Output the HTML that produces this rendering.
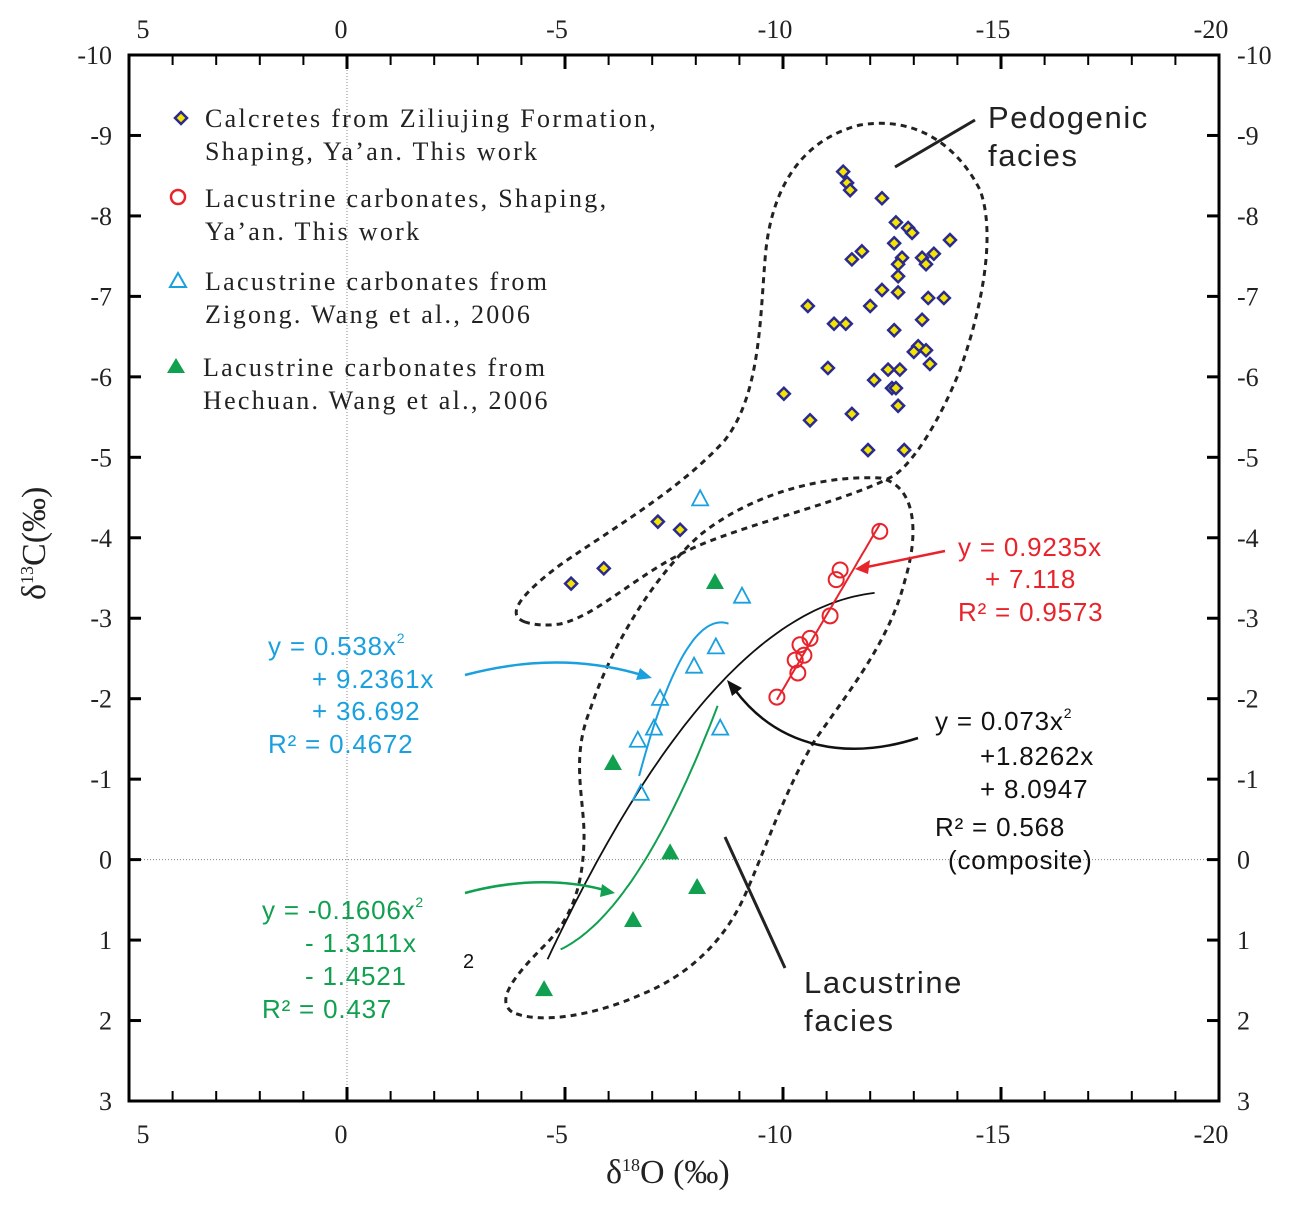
<!DOCTYPE html>
<html><head><meta charset="utf-8"><style>
html,body{margin:0;padding:0;background:#fff;}
svg{display:block;}
.serif{font-family:"Liberation Serif",serif;}
.sans{font-family:"Liberation Sans",sans-serif;}
</style></head><body>
<svg id="chart" width="1306" height="1206" xmlns="http://www.w3.org/2000/svg">
<g id="grid"></g>
<g id="envelopes" fill="none" stroke="#222" stroke-width="3" stroke-dasharray="6,5">
<path d="M525,622 C505,615 520,595 560,565 C610,530 680,490 725,440 C760,395 760,320 765,260 C770,190 800,140 860,125 C920,115 960,150 980,190 C995,230 985,300 960,370 C940,420 915,460 895,475 C850,500 760,520 700,545 C640,570 600,615 560,624 C545,626 535,625 525,622 Z"/>
<path d="M512,1012 C495,1000 515,975 545,945 C575,915 583,880 584,840 C585,800 570,760 590,710 C610,650 650,580 700,535 C750,495 820,475 880,478 C915,485 920,530 905,580 C890,640 850,690 815,740 C785,790 765,850 745,895 C725,940 690,975 640,995 C595,1015 540,1025 512,1012 Z"/>
</g>
<g id="fits"></g>
<g id="marks"></g>
<g id="axes"></g>
<g id="annot">
<line x1="895" y1="167" x2="975" y2="120" stroke="#222" stroke-width="3"/>
<text x="988" y="128" class="sans" font-size="31" letter-spacing="1.6" fill="#222">Pedogenic</text>
<text x="988" y="166" class="sans" font-size="31" letter-spacing="1.6" fill="#222">facies</text>
<line x1="725" y1="837" x2="785" y2="968" stroke="#222" stroke-width="3"/>
<text x="804" y="993" class="sans" font-size="31" letter-spacing="1.6" fill="#222">Lacustrine</text>
<text x="804" y="1031" class="sans" font-size="31" letter-spacing="1.6" fill="#222">facies</text>
<g class="sans" font-size="26" letter-spacing="0.8" fill="#e8232b">
<text x="958" y="556">y = 0.9235x</text><text x="985" y="588">+ 7.118</text><text x="958" y="621">R² = 0.9573</text></g>
<path d="M945,551 L862,568" stroke="#e8232b" stroke-width="2.5" fill="none"/>
<path d="M855,569 L870,560 L868,574 Z" fill="#e8232b"/>
<g class="sans" font-size="26" letter-spacing="0.8" fill="#1aa0de">
<text x="268" y="655">y = 0.538x<tspan font-size="14" dy="-12">2</tspan></text><text x="312" y="688">+ 9.2361x</text><text x="312" y="720">+ 36.692</text><text x="268" y="753">R² = 0.4672</text></g>
<path d="M465,675 C540,655 600,662 645,676" stroke="#1aa0de" stroke-width="2.5" fill="none"/>
<path d="M652,678 L636,680 L640,668 Z" fill="#1aa0de"/>
<g class="sans" font-size="26" letter-spacing="0.8" fill="#10a050">
<text x="262" y="919">y = -0.1606x<tspan font-size="14" dy="-12">2</tspan></text><text x="305" y="952">- 1.3111x</text><text x="305" y="985">- 1.4521</text><text x="262" y="1018">R² = 0.437</text></g>
<path d="M465,893 C520,878 570,880 608,891" stroke="#10a050" stroke-width="2.5" fill="none"/>
<path d="M615,893 L600,897 L602,884 Z" fill="#10a050"/>
<text x="463" y="968" class="sans" font-size="20" fill="#111">2</text>
<g class="sans" font-size="26" letter-spacing="0.8" fill="#111">
<text x="935" y="730">y = 0.073x<tspan font-size="14" dy="-12">2</tspan></text><text x="980" y="765">+1.8262x</text><text x="980" y="798">+ 8.0947</text><text x="935" y="836">R² = 0.568</text><text x="948" y="869">(composite)</text></g>
<path d="M918,738 C850,760 780,750 735,690" stroke="#111" stroke-width="2.5" fill="none"/>
<path d="M727,680 L742,688 L732,696 Z" fill="#111"/>
</g>
<g id="legend" class="serif" font-size="26" fill="#222" letter-spacing="2.3">
<g>
<path d="M181,112 L187,118 L181,124 L175,118 Z" fill="#f5e400" stroke="#2a2a90" stroke-width="2.5"/>
<text x="205" y="127">Calcretes from Ziliujing Formation,</text><text x="205" y="160">Shaping, Ya’an. This work</text></g>
<g>
<circle cx="178" cy="197" r="7" fill="none" stroke="#e8232b" stroke-width="2.5"/>
<text x="205" y="207">Lacustrine carbonates, Shaping,</text><text x="205" y="240">Ya’an. This work</text></g>
<g>
<path d="M178,273 L186,287 L170,287 Z" fill="none" stroke="#1aa0de" stroke-width="2"/>
<text x="205" y="290">Lacustrine carbonates  from</text><text x="205" y="323">Zigong. Wang et  al., 2006</text></g>
<g>
<path d="M176,358 L185,373 L167,373 Z" fill="#10a050"/>
<text x="203" y="376">Lacustrine carbonates from</text><text x="203" y="409">Hechuan. Wang et  al., 2006</text></g>
</g>
</svg>
<script>
const xTicks=[5,0,-5,-10,-15,-20];
const yTicks=[-10,-9,-8,-7,-6,-5,-4,-3,-2,-1,0,1,2,3];
const calcX=[-11.38,-11.47,-11.54,-12.27,-12.59,-12.87,-12.96,-12.55,-13.83,-11.81,-11.58,-12.73,-13.19,-13.46,-13.28,-12.64,-12.64,-12.27,-12.64,-13.33,-13.69,-10.57,-12.00,-11.17,-11.44,-13.19,-12.55,-13.10,-13.28,-13.00,-13.37,-11.03,-12.41,-12.68,-12.09,-12.50,-12.59,-10.02,-12.64,-11.58,-10.62,-11.95,-12.78,-7.13,-7.64,-5.89,-5.14];
const calcY=[-8.55,-8.41,-8.32,-8.22,-7.92,-7.85,-7.79,-7.66,-7.70,-7.56,-7.46,-7.48,-7.48,-7.53,-7.40,-7.40,-7.25,-7.08,-7.05,-6.98,-6.98,-6.88,-6.88,-6.66,-6.66,-6.71,-6.58,-6.38,-6.33,-6.31,-6.16,-6.11,-6.09,-6.09,-5.96,-5.86,-5.86,-5.79,-5.64,-5.54,-5.46,-5.09,-5.09,-4.20,-4.10,-3.62,-3.43];
const redX=[-12.22,-11.31,-11.22,-11.08,-10.62,-10.39,-10.48,-10.28,-10.34,-9.86];
const redY=[-4.08,-3.60,-3.48,-3.03,-2.75,-2.67,-2.54,-2.48,-2.32,-2.02];
const blueX=[-8.10,-9.06,-8.46,-7.96,-7.18,-7.04,-6.67,-8.56,-6.74];
const blueY=[-4.49,-3.28,-2.65,-2.41,-2.01,-1.64,-1.49,-1.64,-0.83];
const greenX=[-8.44,-6.10,-7.41,-8.03,-6.56,-4.52];
const greenY=[-3.45,-1.20,-0.09,0.34,0.75,1.61];
const redFit=[0.9235,7.118];
const blueFit=[0.538,9.2361,36.692];
const greenFit=[-0.1606,-1.3111,-1.4521];
const blackFit=[0.073,1.8262,8.0947];

const L=129,R=1219,T=55,B=1101;
const sx=v=>L+(5-v)*(R-L)/25;
const sy=v=>T+(v+10)*(B-T)/13;
const NS='http://www.w3.org/2000/svg';
function mk(tag,attrs,parent){const e=document.createElementNS(NS,tag);for(const k in attrs)e.setAttribute(k,attrs[k]);parent.appendChild(e);return e;}
const grid=document.getElementById('grid'),axes=document.getElementById('axes'),marks=document.getElementById('marks'),fits=document.getElementById('fits');

let g0=mk('line',{x1:sx(0),x2:sx(0),y1:T,y2:B,stroke:'#888','stroke-width':1,'stroke-dasharray':'1,2'},grid);


let g1=mk('line',{x1:L,x2:R,y1:sy(0),y2:sy(0),stroke:'#888','stroke-width':1,'stroke-dasharray':'1,2'},grid);



let frame=mk('rect',{x:L,y:T,width:R-L,height:B-T,fill:'none',stroke:'#000','stroke-width':3},axes);


for(let v=5;v>=-20;v--){
  const x=sx(v),maj=(v%5===0),len=maj?14:10,w=maj?3:2;
  mk('line',{x1:x,x2:x,y1:B,y2:B-len,stroke:'#000','stroke-width':w},axes);
  mk('line',{x1:x,x2:x,y1:T,y2:T+len,stroke:'#000','stroke-width':w},axes);
}
xTicks.forEach(v=>{
  const dx=(v<0?-8:-6)+(v===5?20:0);
  const t1=mk('text',{x:sx(v)+dx,y:1143,'text-anchor':'middle','font-size':26,'class':'serif',fill:'#222'},axes);
  t1.textContent=v;
  
  
  const t2=mk('text',{x:sx(v)+dx,y:38,'text-anchor':'middle','font-size':26,'class':'serif',fill:'#222'},axes);
  t2.textContent=v;
  
  
});
yTicks.forEach(v=>{
  const y=sy(v);
  mk('line',{x1:L,x2:L+12,y1:y,y2:y,stroke:'#000','stroke-width':3},axes);
  mk('line',{x1:R,x2:R-12,y1:y,y2:y,stroke:'#000','stroke-width':3},axes);
  const t1=mk('text',{x:112,y:y+9,'text-anchor':'end','font-size':26,'class':'serif',fill:'#222'},axes);
  t1.textContent=v;
  
  
  const t2=mk('text',{x:1237,y:y+9,'text-anchor':'start','font-size':26,'class':'serif',fill:'#222'},axes);
  t2.textContent=v;
  
  
});
let yt=mk('text',{transform:'translate(45,600) rotate(-90)','font-size':34,'class':'serif',fill:'#222'},axes);
yt.innerHTML='δ<tspan font-size="18" dy="-12">13</tspan><tspan dy="12">C(‰)</tspan>';


let xt=mk('text',{x:606,y:1183,'font-size':34,'class':'serif',fill:'#222'},axes);
xt.innerHTML='δ<tspan font-size="18" dy="-12">18</tspan><tspan dy="12">O (‰)</tspan>';



function curve(c,x0,x1,color,name,w){
  let d='';const n=60;
  for(let i=0;i<=n;i++){const x=x0+(x1-x0)*i/n;const y=c.length===3?c[0]*x*x+c[1]*x+c[2]:c[0]*x+c[1];d+=(i?'L':'M')+sx(x).toFixed(1)+','+sy(y).toFixed(1);}
  const p=mk('path',{d:d,fill:'none',stroke:color,'stroke-width':w},fits);
  
  
}
curve(blackFit,-4.6,-12.1,'#111','composite-fit-curve',1.8);
curve(blueFit,-6.7,-8.75,'#1aa0de','zigong-fit-curve',2);
curve(greenFit,-4.9,-8.5,'#10a050','hechuan-fit-curve',2);
curve(redFit,-9.86,-12.22,'#e8232b','shaping-fit-line',2);

calcX.forEach((v,i)=>{const x=sx(v),y=sy(calcY[i]);
  const p=mk('path',{d:`M${x},${y-6}L${x+6},${y}L${x},${y+6}L${x-6},${y}Z`,fill:'#f5e400',stroke:'#2a2a90','stroke-width':2.5},marks);
  
  });
redX.forEach((v,i)=>{
  const c=mk('circle',{cx:sx(v),cy:sy(redY[i]),r:7.5,fill:'none',stroke:'#e8232b','stroke-width':2},marks);
  
  });
blueX.forEach((v,i)=>{const x=sx(v),y=sy(blueY[i]);
  const p=mk('path',{d:`M${x},${y-8}L${x+8},${y+7}L${x-8},${y+7}Z`,fill:'none',stroke:'#1aa0de','stroke-width':1.8},marks);
  
  });
greenX.forEach((v,i)=>{const x=sx(v),y=sy(greenY[i]);
  const p=mk('path',{d:`M${x},${y-9}L${x+9},${y+7}L${x-9},${y+7}Z`,fill:'#10a050'},marks);
  
  });
</script>
</body></html>
